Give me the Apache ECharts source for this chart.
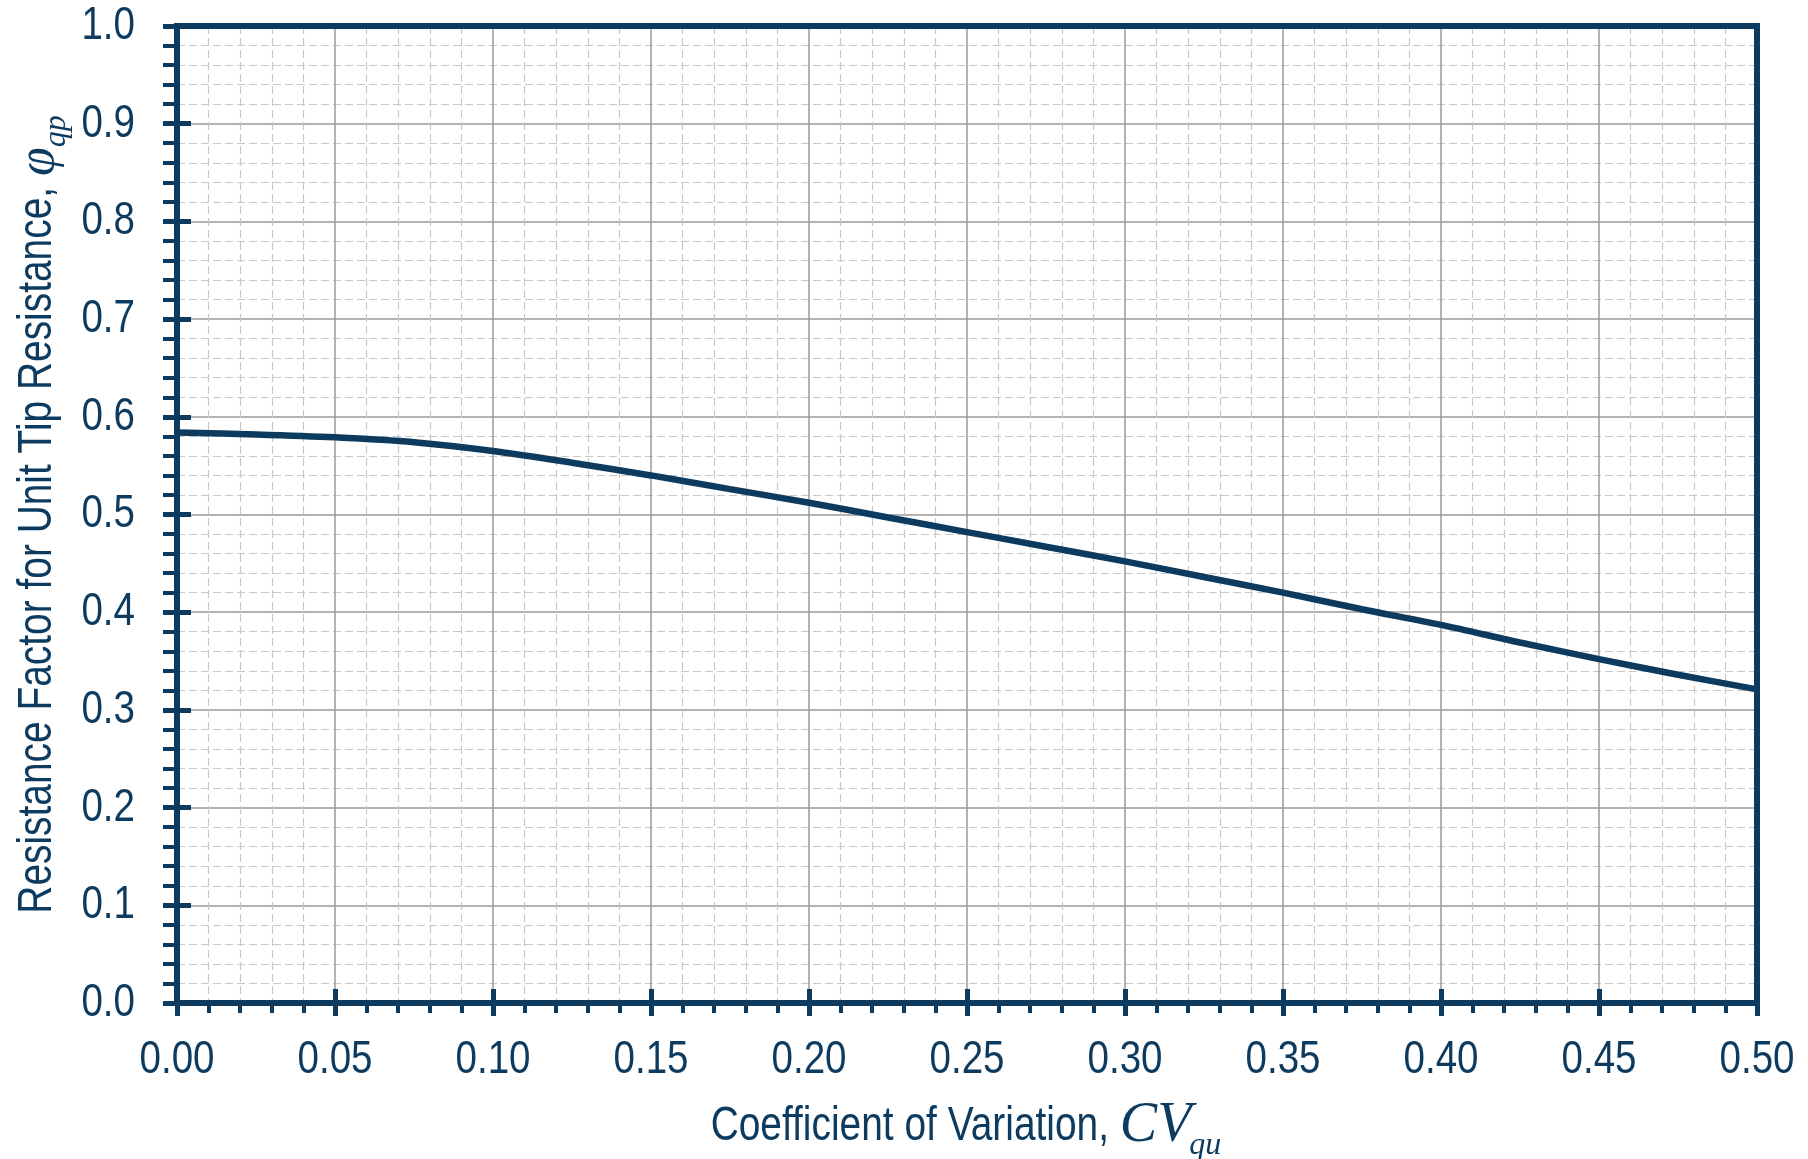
<!DOCTYPE html>
<html>
<head>
<meta charset="utf-8">
<title>Resistance Factor vs CV</title>
<script src="https://cdn.jsdelivr.net/npm/echarts@6/dist/echarts.min.js"></script>
<style>
    html, body { margin: 0; padding: 0; background: #fff; }
    #chart { width: 1808px; height: 1159px; }
</style>
</head>
<body>
<div id="chart"></div>
<script>
// 曲线数据
var cvValues  = [0.000, 0.025, 0.050, 0.075, 0.100, 0.125, 0.150, 0.175, 0.200, 0.225, 0.250,
                 0.275, 0.300, 0.325, 0.350, 0.375, 0.400, 0.425, 0.450, 0.475, 0.500];
var phiValues = [0.584, 0.582, 0.579, 0.574, 0.565, 0.553, 0.540, 0.526, 0.512, 0.497, 0.482,
                 0.467, 0.452, 0.436, 0.420, 0.403, 0.387, 0.369, 0.352, 0.336, 0.321];
// 刻度
var xTicks = [0.00, 0.05, 0.10, 0.15, 0.20, 0.25, 0.30, 0.35, 0.40, 0.45, 0.50];
var yTicks = [0.0, 0.1, 0.2, 0.3, 0.4, 0.5, 0.6, 0.7, 0.8, 0.9, 1.0];
var xTickLabels = ['0.00', '0.05', '0.10', '0.15', '0.20', '0.25', '0.30', '0.35', '0.40', '0.45', '0.50'];
var yTickLabels = ['0.0', '0.1', '0.2', '0.3', '0.4', '0.5', '0.6', '0.7', '0.8', '0.9', '1.0'];

(function(win){
    var NAVY = '#0c3b5f';
    var SANS = "'Liberation Sans', Arial, sans-serif";
    var SERIF = "'Liberation Serif', 'Times New Roman', serif";
    var NARROW = 0.82;          // 没有窄体字, 用横向缩放模拟 Arial Narrow
    var MID_SANS = 0.3465, MID_SERIF = 0.3375;   // middle 基线到 alphabetic 基线的距离 (em)

    var pts = [];
    for (var i = 0; i < cvValues.length; i++) pts.push([cvValues[i], phiValues[i]]);

    var measureCtx = document.createElement('canvas').getContext('2d');
    function fontStr(p){ return (p.italic ? 'italic ' : '') + p.size + 'px ' + p.family; }
    function textWidth(str, font){ measureCtx.font = font; return measureCtx.measureText(str).width; }

    /**
     * 拼接标题 (正文 + 斜体符号 + 下标)
     * 原点 = 文字水平中心, 正文基线
     */
    function titleGroup(parts, cx, cy, rotation){
        var total = 0;
        parts.forEach(function(p){ p.w = textWidth(p.text, fontStr(p)) * (p.sx || 1); total += p.w; });
        var x = -total / 2;
        var children = parts.map(function(p){
            var el = {
                type: 'text', x: x, y: p.base - p.mid * p.size, scaleX: p.sx || 1,
                style: {
                    text: p.text, fontFamily: p.family, fontSize: p.size,
                    fontStyle: p.italic ? 'italic' : 'normal',
                    fill: NAVY, align: 'left', verticalAlign: 'middle'
                }
            };
            x += p.w + (p.gap || 0);
            return el;
        });
        return { type: 'group', x: cx, y: cy, rotation: rotation || 0, silent: true, children: children };
    }

    function tickText(text, x, y, align){
        return {
            type: 'text', x: x, y: y, scaleX: NARROW, silent: true,
            style: { text: text, fontFamily: SANS, fontSize: 47, fill: NAVY, align: align, verticalAlign: 'middle' }
        };
    }

    // 主轴: 轴线 + 外侧刻度 + 网格
    function mainAxis(ticks, step, tickLen, minorLen, position){
        return {
            type: 'value',
            position: position,
            min: ticks[0],
            max: ticks[ticks.length - 1],
            interval: step,
            axisLine: { show: true, onZero: false, lineStyle: { color: NAVY, width: 6 } },
            axisTick: { show: true, inside: false, length: tickLen, lineStyle: { color: NAVY, width: 5 } },
            minorTick: { show: true, splitNumber: 5, length: minorLen, lineStyle: { color: NAVY, width: 4 } },
            axisLabel: { show: false },
            splitLine: { show: true, lineStyle: { color: '#9a9a9a', width: 1.5 } },
            minorSplitLine: { show: true, lineStyle: { color: '#c8c8c8', width: 1.2, type: [8, 4] } }
        };
    }
    // 辅轴: 只画内侧的主刻度
    function innerAxis(ticks, step, position){
        return {
            type: 'value',
            position: position,
            min: ticks[0],
            max: ticks[ticks.length - 1],
            interval: step,
            axisLine: { show: false },
            axisTick: { show: true, inside: true, length: 14, lineStyle: { color: NAVY, width: 5 } },
            axisLabel: { show: false },
            splitLine: { show: false }
        };
    }

    var chart = echarts.init(document.getElementById('chart'));
    chart.setOption({
        animation: false,
        backgroundColor: '#fff',
        grid: {
            left: 177, right: 51, top: 26, bottom: 156,
            show: true, z: 5,
            borderColor: NAVY, borderWidth: 6, backgroundColor: 'transparent'
        },
        xAxis: [ mainAxis(xTicks, 0.05, 13, 10, 'bottom'), innerAxis(xTicks, 0.05, 'bottom') ],
        yAxis: [ mainAxis(yTicks, 0.1, 14, 14, 'left'), innerAxis(yTicks, 0.1, 'left') ],
        series: [{
            type: 'line',
            xAxisIndex: 0,
            yAxisIndex: 0,
            data: pts,
            smooth: 0.3,
            showSymbol: false,
            lineStyle: { color: NAVY, width: 6.5 },
            z: 3
        }]
    });

    //刻度文字和轴标题, 位置由坐标轴换算
    function layoutText(){
        var x0 = chart.convertToPixel({ xAxisIndex: 0 }, xTicks[0]);
        var x1 = chart.convertToPixel({ xAxisIndex: 0 }, xTicks[xTicks.length - 1]);
        var y0 = chart.convertToPixel({ yAxisIndex: 0 }, yTicks[0]);
        var y1 = chart.convertToPixel({ yAxisIndex: 0 }, yTicks[yTicks.length - 1]);
        var els = [];
        xTicks.forEach(function(v, k){
            els.push(tickText(xTickLabels[k], chart.convertToPixel({ xAxisIndex: 0 }, v), y0 + 57, 'center'));
        });
        yTicks.forEach(function(v, k){
            els.push(tickText(yTickLabels[k], x0 - 42, chart.convertToPixel({ yAxisIndex: 0 }, v), 'right'));
        });
        els.push(titleGroup([
            { text: 'Coefficient of Variation, ', family: SANS, size: 48, sx: 0.81, base: 0, mid: MID_SANS },
            { text: 'CV', family: SERIF, size: 56, italic: true, base: 2, mid: MID_SERIF, gap: -2 },
            { text: 'qu', family: SERIF, size: 32, italic: true, base: 13, mid: MID_SERIF }
        ], (x0 + x1) / 2, y0 + 140, 0));
        els.push(titleGroup([
            { text: 'Resistance Factor for Unit Tip Resistance, ', family: SANS, size: 48, sx: 0.81, base: 0, mid: MID_SANS },
            { text: 'φ', family: SERIF, size: 52, italic: true, base: 3, mid: MID_SERIF },
            { text: 'qp', family: SERIF, size: 32, italic: true, base: 13, mid: MID_SERIF }
        ], x0 - 123, (y0 + y1) / 2, Math.PI / 2));
        chart.setOption({ graphic: { elements: els } }, { replaceMerge: ['graphic'] });
    }
    layoutText();

    win.addEventListener('resize', function(){
        chart.resize();
        layoutText();
    });
})(window);
</script>
</body>
</html>
